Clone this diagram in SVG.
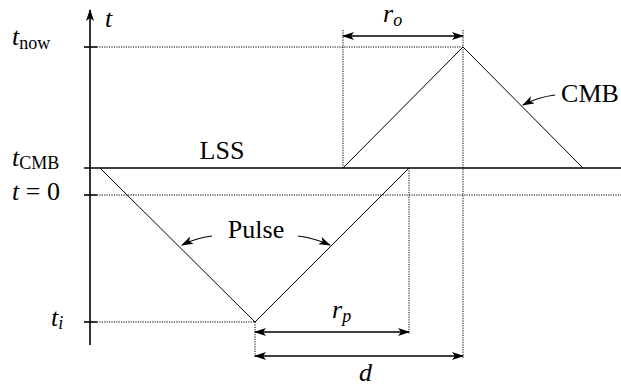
<svg xmlns="http://www.w3.org/2000/svg" width="621" height="388" viewBox="0 0 621 388" font-family="'Liberation Serif','DejaVu Serif',serif">
<defs>
<marker id="ah" viewBox="0 0 12 8" refX="11" refY="4" markerWidth="12" markerHeight="8" markerUnits="userSpaceOnUse" orient="auto-start-reverse">
<path d="M0,0 L12,4 L0,8 L3,4 Z" fill="#000"/>
</marker>
</defs>
<style>
.dot{stroke:#000;stroke-width:1;stroke-dasharray:1.2 1.2;fill:none}
.ln{stroke:#000;stroke-width:1;fill:none}
.thk{stroke:#000;stroke-width:1.6;fill:none}
.dim{stroke:#000;stroke-width:1.4;fill:none;marker-start:url(#ah);marker-end:url(#ah)}
.lbl{stroke:#000;stroke-width:1.2;fill:none;marker-end:url(#ah)}
text{fill:#000;font-family:'Liberation Serif','DejaVu Serif',serif}
.m{font-size:26px;font-style:italic}
.r{font-size:26px}
.s{font-size:18px;font-style:normal}
.si{font-size:18px;font-style:italic}
</style>
<g id="guides">
<line class="dot" x1="97" y1="47" x2="463" y2="47"/>
<line class="dot" x1="97" y1="195" x2="621" y2="195"/>
<line class="dot" x1="97" y1="322" x2="255" y2="322"/>
<line class="dot" x1="343" y1="30" x2="343" y2="168"/>
<line class="dot" x1="463" y1="30" x2="463" y2="358"/>
<line class="dot" x1="409" y1="168" x2="409" y2="334"/>
<line class="dot" x1="255" y1="322" x2="255" y2="358"/>
</g>
<g id="axis">
<line class="thk" x1="90" y1="345" x2="90" y2="10" marker-end="url(#ah)"/>
<line class="thk" x1="84" y1="47" x2="97" y2="47"/>
<line class="thk" x1="84" y1="195" x2="97" y2="195"/>
<line class="thk" x1="84" y1="322" x2="97" y2="322"/>
<text class="m" x="105" y="27">t</text>
<text class="m" x="12" y="45">t<tspan class="s" dy="4">now</tspan></text>
<text class="m" x="12" y="166">t<tspan class="s" dy="3">CMB</tspan></text>
<text class="m" x="12" y="200">t<tspan font-style="normal"> = 0</tspan></text>
<text class="m" x="51" y="326">t<tspan class="si" dy="3">i</tspan></text>
</g>
<g id="lss">
<line class="thk" x1="84" y1="168" x2="621" y2="168"/>
<text class="r" x="222" y="159" text-anchor="middle">LSS</text>
</g>
<g id="pulse">
<polyline class="ln" points="100,168 255,322 409,168"/>
<text class="r" x="256" y="238" text-anchor="middle">Pulse</text>
</g>
<g id="cmb">
<polyline class="ln" points="343,168 463,47 583,168"/>
<text class="r" x="590" y="102" text-anchor="middle">CMB</text>
</g>
<g id="connectors">
<path class="lbl" d="M212,236 Q196,238 182,245"/>
<path class="lbl" d="M298,236 Q314,238 330,245"/>
<path class="lbl" d="M555,95 Q538,97 523,105"/>
<line class="dim" x1="343" y1="36" x2="463" y2="36"/>
<line class="dim" x1="255" y1="332" x2="409" y2="332"/>
<line class="dim" x1="255" y1="356" x2="463" y2="356"/>
</g>
<g id="dimlabels">
<text class="m" x="383" y="22">r<tspan class="si" dy="4">o</tspan></text>
<text class="m" x="332" y="318">r<tspan class="si" dy="4">p</tspan></text>
<text class="m" x="359" y="381" font-size="25">d</text>
</g>
</svg>
